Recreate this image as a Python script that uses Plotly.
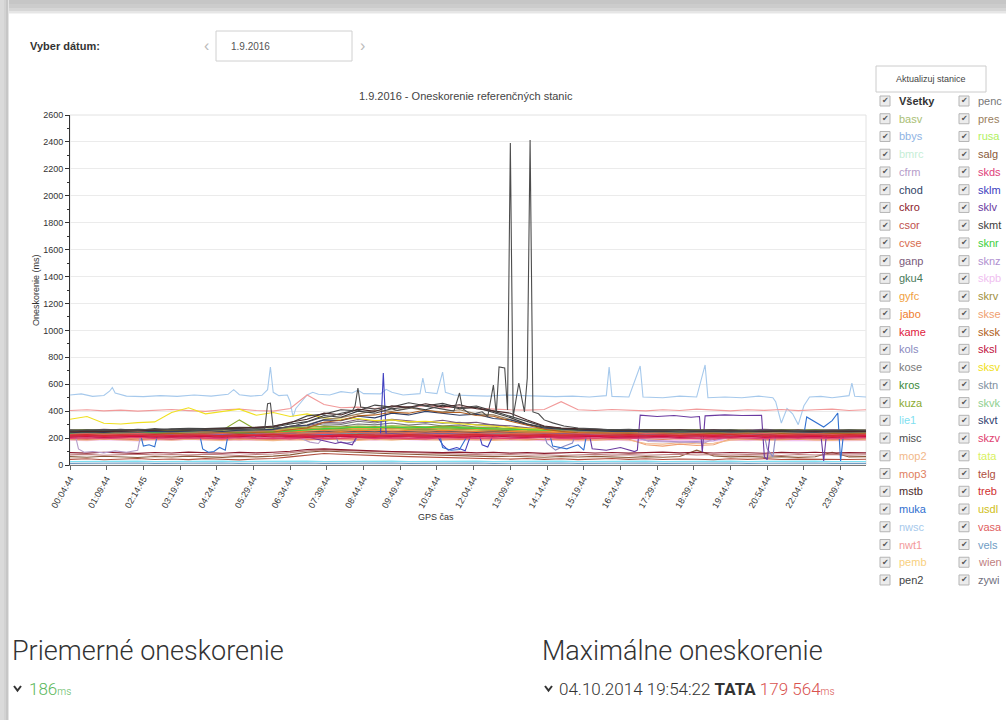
import plotly.graph_objects as go

W, H = 1006, 720


def fx(px):
    return px / W


def fy(py):
    return 1 - py / H


# ---- x axis: 5-minute samples, labelled every 13 samples ----
TICK_TEXT = ["00:04:44", "01:09:44", "02:14:45", "03:19:45", "04:24:44", "05:29:44",
             "06:34:44", "07:39:44", "08:44:44", "09:49:44", "10:54:44", "12:04:44",
             "13:09:45", "14:14:44", "15:19:44", "16:24:44", "17:29:44", "18:39:44",
             "19:44:44", "20:54:44", "22:04:44", "23:09:44"]
TICK_IDX = [13 * k for k in range(len(TICK_TEXT))]
N_SAMPLES = 282
GRID = list(range(0, N_SAMPLES + 1, 6))   # 48 sample positions

# ---- stations in the two legend columns ----
COL1 = ["basv", "bbys", "bmrc", "cfrm", "chod", "ckro", "csor", "cvse", "ganp", "gku4",
        "gyfc", "jabo", "kame", "kols", "kose", "kros", "kuza", "lie1", "misc", "mop2",
        "mop3", "mstb", "muka", "nwsc", "nwt1", "pemb", "pen2"]
COL2 = ["penc", "pres", "rusa", "salg", "skds", "sklm", "sklv", "skmt", "sknr", "sknz",
        "skpb", "skrv", "skse", "sksk", "sksl", "sksv", "sktn", "skvk", "skvt", "skzv",
        "tata", "telg", "treb", "usdl", "vasa", "vels", "wien", "zywi"]

COLORS = {
    "basv": "#a9c074", "bbys": "#8fb3e3", "bmrc": "#c6eed6", "cfrm": "#b59cc9",
    "chod": "#2f3f66", "ckro": "#8b1a2b", "csor": "#c0504d", "cvse": "#d86b4e",
    "ganp": "#7a5a7a", "gku4": "#4a7a5a", "gyfc": "#f0a040", "jabo": "#f08030",
    "kame": "#e0203c", "kols": "#8a8ac0", "kose": "#7a7a7a", "kros": "#3a8a3a",
    "kuza": "#8aaa30", "lie1": "#80e0f0", "misc": "#4d4d4d", "mop2": "#f2b88a",
    "mop3": "#e08060", "mstb": "#4a2a2a", "muka": "#3070d0", "nwsc": "#a6c9ec",
    "nwt1": "#f29a9a", "pemb": "#f8d080", "pen2": "#444444",
    "penc": "#777777", "pres": "#9a8060", "rusa": "#b0f060", "salg": "#8a5a3a",
    "skds": "#e0407a", "sklm": "#4040c0", "sklv": "#6a3aa0", "skmt": "#3d3d3d",
    "sknr": "#40d040", "sknz": "#b090d0", "skpb": "#f0c0f0", "skrv": "#a09040",
    "skse": "#f0a070", "sksk": "#b06020", "sksl": "#c01040", "sksv": "#f0e020",
    "sktn": "#8090a0", "skvk": "#90d090", "skvt": "#304070", "skzv": "#e04070",
    "tata": "#d8f060", "telg": "#b05040", "treb": "#d03030", "usdl": "#d0c020",
    "vasa": "#e06060", "vels": "#6f9cc4", "wien": "#c08080", "zywi": "#707080",
}

# ---- delay values (ms) ----
# stations with isolated outages / spikes carry their own sample indices
nwsc_idx = [0, 4, 8, 12, 14, 15, 16, 20, 26, 32, 38, 44, 50, 56, 58, 60, 64, 68, 70, 71,
            72, 74, 77, 78, 79, 80, 82, 84, 86, 88, 92, 96, 100, 102, 104, 110, 112, 114,
            118, 124, 125, 126, 130, 132, 133, 136, 142, 148, 154, 160, 166, 172, 178,
            184, 190, 191, 192, 198, 202, 203, 210, 216, 222, 225, 226, 232, 238, 244,
            249, 250, 252, 254, 256, 258, 260, 262, 266, 270, 276, 277, 278, 282]
nwsc = [520, 528, 510, 516, 548, 575, 535, 512, 508, 515, 510, 520, 512, 525, 560, 522,
        512, 518, 560, 728, 540, 515, 520, 470, 357, 420, 470, 520, 540, 525, 520, 545,
        535, 557, 530, 528, 562, 540, 520, 530, 646, 540, 530, 690, 540, 520, 515, 512,
        520, 515, 510, 508, 512, 505, 515, 728, 510, 505, 735, 505, 500, 512, 505, 743,
        500, 505, 500, 512, 500, 470, 312, 420, 380, 300, 440, 505, 510, 500, 515, 609,
        510, 505]

misc_idx = [0, 6, 12, 18, 24, 30, 36, 42, 48, 54, 60, 66, 69, 70, 71, 72, 76, 80, 84, 88,
            92, 96, 100, 101, 102, 103, 108, 112, 116, 120, 124, 128, 132, 136, 138, 139,
            142, 146, 148, 150, 151, 152, 154, 155, 156, 157, 159, 161, 162, 163, 164, 166,
            168, 171, 175, 180, 186, 192, 198, 204, 210, 216, 222, 228, 234, 240, 246, 252,
            258, 264, 270, 276, 282]
misc = [255, 262, 258, 265, 258, 270, 262, 268, 260, 265, 262, 270, 268, 455, 460, 275,
        280, 295, 320, 345, 360, 385, 400, 440, 572, 430, 415, 430, 405, 420, 445, 430,
        410, 400, 535, 420, 375, 395, 360, 594, 380, 728, 720, 408, 2392, 357, 609, 394,
        646, 2414, 394, 380, 335, 313, 290, 275, 268, 262, 265, 258, 262, 255, 260, 258,
        262, 255, 258, 262, 255, 260, 258, 262, 258]

muka_idx = [0, 10, 20, 25, 26, 28, 30, 31, 40, 46, 47, 49, 51, 53, 55, 56, 66, 76, 86, 96,
            106, 116, 126, 131, 132, 135, 138, 141, 150, 158, 168, 170, 171, 176, 180, 182,
            183, 190, 200, 210, 220, 230, 240, 250, 260, 261, 264, 267, 270, 272, 273, 274,
            282]
muka = [225, 228, 222, 226, 140, 150, 135, 225, 228, 222, 120, 95, 100, 130, 110, 224,
        230, 226, 222, 228, 225, 222, 226, 224, 130, 110, 115, 225, 222, 226, 228, 225,
        140, 120, 150, 110, 226, 224, 228, 222, 226, 224, 228, 222, 226, 357, 320, 282,
        330, 386, 30, 226, 224]

sklv_idx = [0, 20, 40, 60, 80, 94, 96, 100, 102, 120, 140, 160, 175, 184, 185, 190, 195,
            200, 201, 202, 208, 214, 220, 223, 224, 225, 232, 238, 245, 246, 247, 248, 260,
            266, 267, 268, 282]
sklv = [232, 230, 235, 230, 228, 160, 170, 150, 228, 232, 228, 226, 230, 228, 120, 110,
        130, 100, 110, 370, 360, 368, 355, 360, 95, 365, 372, 368, 370, 60, 40, 226, 230,
        228, 30, 228, 230]

sklm_idx = [0, 20, 40, 60, 80, 100, 110, 111, 112, 120, 130, 132, 134, 137, 140, 142, 145,
            146, 148, 150, 160, 180, 200, 220, 240, 260, 282]
sklm = [218, 222, 220, 224, 220, 222, 225, 683, 230, 224, 222, 150, 111, 130, 105, 225,
        222, 150, 134, 224, 220, 224, 220, 222, 226, 222, 224]

cfrm_idx = [0, 2, 3, 5, 8, 12, 16, 20, 24, 25, 40, 60, 80, 85, 88, 90, 100, 120, 140, 160,
            180, 200, 205, 215, 225, 230, 250, 266, 282]
cfrm = [215, 210, 120, 95, 100, 90, 105, 95, 110, 220, 215, 218, 214, 170, 160, 215, 218,
        215, 212, 216, 214, 212, 175, 170, 165, 215, 218, 212, 215]

kols_idx = [0, 30, 60, 94, 95, 98, 101, 102, 130, 150, 168, 169, 172, 175, 178, 179, 200,
            240, 246, 247, 249, 250, 282]
kols = [220, 224, 220, 222, 170, 163, 175, 222, 224, 220, 222, 160, 111, 140, 163, 222,
        224, 220, 222, 120, 60, 222, 220]

# stations sampled on GRID (48 values each)
nwt1 = [405, 410, 402, 408, 400, 406, 412, 404, 398, 410, 415, 405,
        400, 420, 520, 450, 425, 430, 420, 435, 428, 440, 425, 430,
        420, 415, 410, 408, 412, 470, 410, 405, 412, 408, 402, 410,
        405, 415, 408, 402, 410, 406, 412, 404, 410, 415, 405, 410]
sksv = [340, 360, 310, 305, 315, 320, 390, 425, 380, 400, 415, 370,
        390, 360, 380, 350, 340, 345, 330, 335, 320, 325, 315, 310,
        300, 290, 280, 270, 265, 260, 262, 255, 258, 252, 255, 250,
        248, 252, 250, 255, 248, 250, 252, 248, 250, 255, 250, 252]
sknr = [235, 240, 238, 236, 240, 242, 238, 245, 240, 238, 242, 240,
        245, 250, 260, 270, 275, 280, 278, 282, 276, 280, 275, 278,
        272, 268, 265, 262, 258, 262, 260, 258, 262, 256, 250, 248,
        245, 246, 244, 248, 245, 242, 246, 244, 248, 245, 243, 246]
mstb = [245, 250, 248, 252, 255, 258, 262, 260, 265, 268, 272, 275,
        285, 318, 340, 385, 372, 415, 398, 440, 428, 455, 432, 448,
        418, 402, 385, 335, 290, 275, 268, 265, 262, 258, 262, 260,
        256, 258, 262, 255, 258, 252, 255, 258, 252, 255, 250, 252]
pen2 = [260, 255, 262, 258, 265, 262, 268, 272, 270, 275, 280, 278,
        290, 312, 365, 378, 410, 402, 445, 430, 462, 440, 458, 425,
        438, 400, 362, 320, 285, 272, 265, 262, 258, 262, 255, 258,
        262, 256, 255, 260, 252, 258, 255, 250, 256, 252, 258, 254]
skmt = [250, 258, 255, 260, 262, 258, 265, 262, 270, 268, 272, 276,
        280, 305, 322, 368, 355, 400, 385, 418, 432, 410, 445, 418,
        428, 390, 352, 305, 280, 270, 262, 260, 258, 255, 258, 252,
        255, 250, 252, 255, 250, 248, 252, 250, 248, 252, 250, 248]
chod = [240, 245, 242, 248, 245, 250, 248, 252, 255, 250, 258, 260,
        265, 288, 295, 335, 330, 362, 350, 385, 372, 398, 382, 370,
        378, 345, 335, 300, 275, 265, 258, 255, 250, 252, 248, 250,
        245, 248, 250, 246, 248, 245, 250, 246, 244, 248, 246, 250]
pres = [230, 235, 232, 238, 240, 236, 242, 245, 240, 246, 250, 252,
        258, 282, 298, 338, 352, 378, 405, 398, 425, 405, 395, 410,
        380, 372, 338, 300, 270, 258, 250, 248, 245, 248, 242, 245,
        240, 244, 246, 242, 245, 240, 244, 242, 240, 245, 242, 244]
sksk = [225, 228, 230, 226, 232, 230, 235, 232, 236, 240, 238, 242,
        245, 262, 276, 318, 332, 365, 372, 392, 385, 408, 388, 392,
        368, 362, 325, 295, 265, 250, 240, 238, 235, 238, 232, 236,
        230, 234, 236, 232, 235, 230, 234, 232, 230, 235, 232, 234]
kame = [214, 218, 212, 216, 220, 213, 217, 215, 219, 212, 216, 221,
        214, 218, 213, 217, 220, 215, 212, 218, 216, 214, 219, 213,
        217, 221, 215, 212, 218, 214, 216, 220, 213, 217, 215, 219,
        212, 216, 218, 214, 220, 213, 217, 215, 219, 212, 216, 218]
treb = [222, 226, 219, 224, 221, 227, 220, 225, 223, 218, 226, 222,
        228, 221, 225, 219, 224, 227, 222, 220, 226, 223, 219, 225,
        228, 221, 224, 220, 226, 222, 225, 219, 223, 227, 221, 224,
        220, 226, 222, 228, 219, 224, 221, 225, 223, 220, 226, 222]
sksl = [208, 212, 206, 210, 214, 207, 211, 209, 213, 206, 210, 215,
        208, 212, 207, 211, 214, 209, 206, 212, 210, 208, 213, 207,
        211, 215, 209, 206, 212, 208, 210, 214, 207, 211, 209, 213,
        206, 210, 212, 208, 214, 207, 211, 209, 213, 206, 210, 212]
vasa = [226, 231, 224, 229, 233, 227, 222, 230, 228, 234, 225, 229,
        232, 226, 230, 235, 228, 224, 231, 227, 233, 229, 225, 230,
        234, 228, 226, 231, 229, 224, 232, 228, 230, 226, 233, 229,
        227, 231, 225, 230, 228, 234, 226, 229, 232, 227, 230, 228]
csor = [216, 220, 224, 218, 215, 221, 219, 223, 217, 214, 222, 218,
        220, 225, 219, 216, 221, 223, 218, 215, 220, 224, 217, 221,
        219, 216, 223, 220, 218, 222, 215, 219, 224, 218, 221, 216,
        220, 223, 219, 217, 222, 218, 216, 221, 224, 219, 217, 220]
skzv = [204, 200, 207, 203, 209, 201, 205, 208, 202, 206, 210, 203,
        199, 206, 204, 208, 201, 205, 209, 203, 200, 207, 204, 202,
        208, 205, 201, 206, 209, 203, 205, 200, 207, 204, 202, 208,
        205, 201, 206, 203, 209, 204, 200, 207, 203, 205, 208, 204]
skds = [198, 202, 195, 200, 204, 197, 193, 201, 199, 196, 203, 198,
        200, 194, 202, 197, 199, 205, 196, 201, 198, 194, 203, 199,
        197, 201, 195, 200, 204, 198, 196, 202, 199, 195, 201, 203,
        197, 199, 194, 202, 200, 196, 203, 198, 201, 195, 199, 202]
cvse = [232, 228, 235, 230, 226, 233, 238, 231, 229, 236, 232, 227,
        234, 240, 236, 242, 238, 244, 240, 246, 242, 238, 244, 240,
        236, 241, 235, 232, 237, 230, 234, 228, 233, 231, 236, 229,
        232, 235, 230, 227, 234, 231, 229, 236, 232, 228, 233, 230]
jabo = [240, 236, 243, 238, 245, 241, 237, 244, 239, 235, 242, 246,
        240, 248, 252, 256, 250, 258, 254, 260, 255, 251, 257, 253,
        249, 254, 248, 244, 246, 240, 243, 238, 241, 236, 244, 239,
        242, 237, 245, 240, 238, 243, 236, 241, 244, 239, 237, 242]
gyfc = [246, 250, 244, 248, 252, 245, 249, 243, 251, 247, 244, 250,
        255, 262, 268, 272, 266, 274, 270, 276, 271, 267, 273, 269,
        264, 268, 260, 255, 252, 248, 251, 246, 249, 244, 250, 247,
        243, 249, 246, 251, 245, 248, 244, 250, 247, 243, 249, 246]
mop3 = [194, 190, 197, 192, 188, 195, 191, 198, 193, 189, 196, 192,
        190, 197, 194, 188, 195, 191, 198, 193, 190, 196, 192, 189,
        195, 191, 197, 193, 188, 194, 190, 196, 192, 198, 191, 189,
        195, 193, 190, 197, 192, 188, 194, 191, 196, 193, 190, 195]
mop2 = [188, 184, 191, 186, 182, 189, 185, 192, 187, 183, 190, 186,
        181, 188, 184, 191, 186, 183, 189, 185, 192, 187, 184, 190,
        186, 182, 188, 185, 191, 184, 187, 183, 190, 186, 160, 155,
        165, 158, 162, 185, 189, 184, 187, 191, 185, 183, 188, 186]
pemb = [252, 256, 249, 254, 258, 251, 255, 250, 257, 253, 248, 255,
        260, 266, 272, 278, 274, 280, 276, 282, 278, 273, 279, 275,
        270, 266, 262, 258, 255, 252, 256, 250, 254, 249, 253, 257,
        251, 255, 250, 254, 252, 248, 255, 251, 256, 250, 253, 251]
usdl = [243, 247, 240, 245, 249, 242, 246, 241, 248, 244, 239, 246,
        250, 255, 262, 266, 260, 268, 264, 270, 265, 261, 267, 263,
        258, 262, 256, 250, 247, 244, 248, 242, 246, 241, 245, 249,
        243, 247, 242, 246, 244, 240, 247, 243, 248, 242, 245, 243]
tata = [256, 260, 253, 258, 262, 255, 259, 254, 261, 257, 252, 259,
        264, 270, 276, 282, 278, 284, 280, 286, 282, 277, 283, 279,
        274, 270, 266, 262, 259, 256, 260, 254, 258, 253, 257, 261,
        255, 259, 254, 258, 256, 252, 259, 255, 260, 254, 257, 255]
rusa = [249, 245, 252, 247, 243, 250, 246, 253, 248, 244, 251, 247,
        253, 258, 264, 270, 266, 272, 268, 274, 269, 265, 271, 267,
        262, 258, 254, 250, 247, 252, 246, 250, 245, 249, 253, 247,
        251, 246, 250, 248, 244, 251, 247, 252, 246, 249, 247, 250]
kuza = [258, 262, 255, 260, 264, 257, 261, 256, 263, 259, 335, 262,
        268, 275, 282, 288, 284, 290, 286, 292, 288, 283, 289, 285,
        280, 276, 272, 268, 262, 258, 262, 256, 260, 255, 259, 263,
        257, 261, 256, 260, 258, 254, 261, 257, 262, 256, 259, 257]
kros = [252, 248, 255, 250, 246, 253, 249, 256, 251, 247, 254, 250,
        256, 262, 268, 274, 270, 276, 272, 278, 273, 269, 275, 271,
        266, 262, 258, 254, 251, 256, 250, 254, 249, 253, 257, 251,
        255, 250, 254, 252, 248, 255, 251, 256, 250, 253, 251, 254]
gku4 = [245, 249, 242, 247, 251, 244, 248, 243, 250, 246, 241, 248,
        252, 258, 264, 270, 266, 272, 268, 274, 269, 265, 271, 267,
        262, 258, 254, 250, 247, 244, 248, 242, 246, 241, 245, 249,
        243, 247, 242, 246, 244, 240, 247, 243, 248, 242, 245, 243]
skvk = [235, 239, 232, 237, 241, 234, 238, 233, 240, 236, 231, 238,
        236, 240, 234, 238, 242, 236, 240, 235, 239, 243, 237, 241,
        236, 240, 234, 238, 235, 239, 233, 237, 241, 235, 239, 234,
        238, 236, 232, 239, 235, 240, 234, 237, 235, 238, 234, 236]
basv = [240, 236, 243, 238, 234, 241, 237, 244, 239, 235, 242, 238,
        244, 240, 246, 242, 248, 244, 240, 246, 243, 239, 245, 241,
        237, 243, 238, 242, 236, 240, 234, 238, 242, 236, 240, 235,
        239, 237, 233, 240, 236, 241, 235, 238, 236, 239, 235, 237]
bbys = [210, 214, 207, 212, 216, 209, 213, 208, 215, 211, 206, 213,
        210, 214, 208, 212, 216, 210, 214, 209, 213, 217, 211, 215,
        210, 214, 208, 212, 209, 213, 207, 211, 215, 209, 213, 208,
        212, 210, 206, 213, 209, 214, 208, 211, 209, 212, 208, 210]
bmrc = [228, 224, 231, 226, 222, 229, 225, 232, 227, 223, 230, 226,
        232, 228, 234, 230, 236, 232, 228, 234, 231, 227, 233, 229,
        225, 231, 226, 230, 224, 228, 222, 226, 230, 224, 228, 223,
        227, 225, 221, 228, 224, 229, 223, 226, 224, 227, 223, 225]
ganp = [262, 258, 265, 260, 256, 263, 259, 266, 261, 257, 264, 260,
        268, 285, 292, 318, 312, 338, 322, 340, 328, 318, 332, 312,
        318, 296, 292, 276, 268, 264, 260, 266, 261, 257, 263, 259,
        264, 258, 262, 256, 260, 265, 259, 263, 257, 261, 259, 262]
kose = [255, 259, 252, 257, 261, 254, 258, 253, 260, 256, 251, 258,
        262, 278, 282, 306, 302, 325, 312, 335, 318, 322, 310, 318,
        298, 300, 280, 274, 262, 258, 254, 259, 253, 257, 252, 256,
        260, 254, 258, 253, 257, 255, 251, 258, 254, 259, 253, 256]
penc = [250, 246, 253, 248, 244, 251, 247, 254, 249, 245, 252, 248,
        254, 268, 270, 292, 288, 305, 298, 312, 296, 306, 290, 298,
        280, 282, 262, 262, 252, 248, 253, 247, 251, 246, 250, 254,
        248, 252, 247, 251, 249, 245, 252, 248, 253, 247, 250, 248]
zywi = [248, 252, 245, 250, 254, 247, 251, 246, 253, 249, 244, 251,
        247, 252, 246, 250, 254, 248, 252, 247, 251, 255, 249, 253,
        248, 252, 246, 250, 247, 251, 245, 249, 253, 247, 251, 246,
        250, 248, 244, 251, 247, 252, 246, 249, 247, 250, 246, 248]
sktn = [232, 236, 229, 234, 238, 231, 235, 230, 237, 233, 228, 235,
        232, 236, 230, 234, 238, 232, 236, 231, 235, 239, 233, 237,
        232, 236, 230, 234, 231, 235, 229, 233, 237, 231, 235, 230,
        234, 232, 228, 235, 231, 236, 230, 233, 231, 234, 230, 232]
skvt = [245, 241, 248, 243, 239, 246, 242, 249, 244, 240, 247, 243,
        249, 245, 251, 247, 253, 249, 245, 251, 248, 244, 250, 246,
        242, 248, 243, 247, 241, 245, 239, 243, 247, 241, 245, 240,
        244, 242, 238, 245, 241, 246, 240, 243, 241, 244, 240, 242]
skrv = [238, 242, 235, 240, 244, 237, 241, 236, 243, 239, 234, 241,
        238, 242, 236, 240, 244, 238, 242, 237, 241, 245, 239, 243,
        238, 242, 236, 240, 237, 241, 235, 239, 243, 237, 241, 236,
        240, 238, 234, 241, 237, 242, 236, 239, 237, 240, 236, 238]
skpb = [185, 181, 188, 183, 179, 186, 182, 189, 184, 180, 187, 183,
        189, 185, 191, 187, 193, 189, 185, 191, 188, 184, 190, 186,
        182, 188, 183, 187, 181, 185, 179, 183, 187, 181, 185, 180,
        184, 182, 178, 185, 181, 186, 180, 183, 181, 184, 180, 182]
skse = [192, 196, 189, 194, 198, 191, 195, 190, 197, 193, 188, 195,
        192, 196, 190, 194, 198, 192, 196, 191, 195, 199, 193, 197,
        192, 196, 190, 194, 191, 195, 189, 193, 197, 191, 150, 140,
        155, 145, 150, 195, 191, 196, 190, 193, 191, 194, 190, 192]
sknz = [212, 215, 210, 214, 212, 216, 210, 214, 212, 215, 210, 213,
        215, 212, 210, 214, 212, 215, 210, 212, 214, 210, 212, 215,
        210, 214, 212, 210, 214, 212, 215, 212, 210, 214, 185, 178,
        172, 175, 180, 210, 214, 212, 210, 215, 212, 210, 214, 212]
ckro = [92, 88, 95, 90, 86, 93, 89, 96, 91, 87, 94, 90,
        95, 102, 115, 120, 114, 108, 104, 100, 98, 95, 92, 96,
        90, 94, 88, 92, 86, 90, 95, 89, 93, 88, 92, 96,
        90, 94, 89, 93, 91, 87, 94, 90, 95, 89, 92, 90]
salg = [62, 58, 65, 60, 56, 63, 59, 66, 61, 57, 64, 60,
        66, 75, 95, 105, 98, 92, 88, 84, 80, 76, 72, 68,
        66, 62, 65, 60, 58, 63, 59, 64, 60, 56, 62, 58,
        63, 110, 68, 60, 64, 58, 62, 57, 61, 95, 60, 62]
telg = [42, 46, 39, 44, 48, 41, 45, 40, 47, 43, 38, 45,
        48, 60, 75, 85, 80, 74, 70, 66, 62, 58, 55, 52,
        50, 46, 44, 48, 42, 46, 40, 44, 48, 42, 46, 41,
        45, 43, 39, 46, 42, 47, 41, 44, 42, 45, 41, 43]
wien = [75, 79, 72, 77, 81, 74, 78, 73, 80, 76, 71, 78,
        82, 92, 105, 112, 108, 100, 96, 92, 88, 85, 82, 80,
        77, 74, 78, 72, 76, 71, 75, 79, 73, 77, 72, 76,
        80, 74, 78, 73, 77, 75, 71, 78, 74, 79, 73, 76]
vels = [12, 14, 11, 13, 15, 12, 14, 11, 13, 15, 12, 14,
        11, 13, 15, 12, 14, 11, 13, 15, 12, 14, 11, 13,
        15, 12, 14, 11, 13, 15, 12, 14, 11, 13, 15, 12,
        14, 11, 13, 15, 12, 14, 11, 13, 15, 12, 14, 12]
lie1 = [26, 28, 25, 27, 29, 26, 28, 25, 27, 29, 26, 28,
        25, 27, 29, 26, 28, 25, 27, 29, 26, 28, 25, 27,
        29, 26, 28, 25, 27, 29, 26, 28, 25, 27, 29, 26,
        28, 25, 27, 29, 26, 28, 25, 27, 29, 26, 28, 26]

SERIES = {
    "nwsc": (nwsc_idx, nwsc), "misc": (misc_idx, misc), "muka": (muka_idx, muka),
    "sklv": (sklv_idx, sklv), "sklm": (sklm_idx, sklm), "cfrm": (cfrm_idx, cfrm),
    "kols": (kols_idx, kols),
    "nwt1": (GRID, nwt1), "sksv": (GRID, sksv), "sknr": (GRID, sknr),
    "mstb": (GRID, mstb), "pen2": (GRID, pen2), "skmt": (GRID, skmt),
    "chod": (GRID, chod), "pres": (GRID, pres), "sksk": (GRID, sksk),
    "kame": (GRID, kame), "treb": (GRID, treb), "sksl": (GRID, sksl),
    "vasa": (GRID, vasa), "csor": (GRID, csor), "skzv": (GRID, skzv),
    "skds": (GRID, skds), "cvse": (GRID, cvse), "jabo": (GRID, jabo),
    "gyfc": (GRID, gyfc), "mop3": (GRID, mop3), "mop2": (GRID, mop2),
    "pemb": (GRID, pemb), "usdl": (GRID, usdl), "tata": (GRID, tata),
    "rusa": (GRID, rusa), "kuza": (GRID, kuza), "kros": (GRID, kros),
    "gku4": (GRID, gku4), "skvk": (GRID, skvk), "basv": (GRID, basv),
    "bbys": (GRID, bbys), "bmrc": (GRID, bmrc), "ganp": (GRID, ganp),
    "kose": (GRID, kose), "penc": (GRID, penc), "zywi": (GRID, zywi),
    "sktn": (GRID, sktn), "skvt": (GRID, skvt), "skrv": (GRID, skrv),
    "skpb": (GRID, skpb), "skse": (GRID, skse), "sknz": (GRID, sknz),
    "ckro": (GRID, ckro), "salg": (GRID, salg), "telg": (GRID, telg),
    "wien": (GRID, wien), "vels": (GRID, vels), "lie1": (GRID, lie1),
}

# drawing order: pale lines first, strong reds and the spiking station last
DRAW_ORDER = ["nwsc", "nwt1", "vels", "lie1", "telg", "salg", "wien", "ckro",
              "bmrc", "skpb", "skse", "mop2", "mop3", "sknz", "bbys", "skvk", "basv",
              "sktn", "skrv", "zywi", "skvt", "penc", "kose", "ganp", "rusa", "tata",
              "usdl", "pemb", "gku4", "kros", "kuza", "gyfc", "jabo", "cvse",
              "cfrm", "kols", "sklm", "muka", "sklv", "sksv", "sknr",
              "pres", "chod", "sksk", "skmt", "pen2", "mstb",
              "skds", "skzv", "csor", "vasa", "sksl", "treb", "kame", "misc"]

FONT = "Liberation Sans"

fig = go.Figure()
for name in DRAW_ORDER:
    xs, ys = SERIES[name]
    fig.add_trace(go.Scatter(x=xs, y=ys, mode="lines", name=name,
                             line=dict(color=COLORS[name], width=1.1),
                             showlegend=False, hoverinfo="skip"))

PLOT_L, PLOT_R, PLOT_T, PLOT_B = 70, 866, 115, 465

shapes = []
annotations = []

# page shadow along top and left edges
for y0, y1, c in [(0, 4, "#c6c6c6"), (4, 8, "#cccccc"), (8, 11, "#d6d6d6"),
                  (11, 13, "#e6e6e6"), (13, 14, "#f3f3f3")]:
    shapes.append(dict(type="rect", xref="paper", yref="paper", x0=0, x1=1,
                       y0=fy(y1), y1=fy(y0), fillcolor=c, line=dict(width=0), layer="below"))
for x0, x1, c in [(0, 4, "#dadada"), (4, 6, "#d2d2d2"), (6, 8, "#c6c6c6"), (8, 9, "#e4e4e4")]:
    shapes.append(dict(type="rect", xref="paper", yref="paper", x0=fx(x0), x1=fx(x1),
                       y0=0, y1=fy(0), fillcolor=c, line=dict(width=0), layer="below"))

# plot frame (light)
shapes.append(dict(type="rect", xref="paper", yref="paper", x0=fx(PLOT_L), x1=fx(PLOT_R),
                   y0=fy(PLOT_B), y1=fy(PLOT_T), line=dict(color="#e2e2e2", width=1),
                   layer="below"))

# date picker
annotations.append(dict(x=fx(28), y=fy(46), xref="paper", yref="paper", xanchor="left",
                        yanchor="middle", text="<b>Vyber dátum:</b>", showarrow=False,
                        font=dict(family=FONT, size=11, color="#333333")))
shapes.append(dict(type="rect", xref="paper", yref="paper", x0=fx(216), x1=fx(352),
                   y0=fy(61), y1=fy(31), line=dict(color="#d0d0d0", width=1),
                   fillcolor="white"))
annotations.append(dict(x=fx(229), y=fy(46), xref="paper", yref="paper", xanchor="left",
                        yanchor="middle", text="1.9.2016", showarrow=False,
                        font=dict(family=FONT, size=10, color="#555555")))
for ax_, ch in [(206, "‹"), (362, "›")]:
    annotations.append(dict(x=fx(ax_), y=fy(45), xref="paper", yref="paper",
                            xanchor="center", yanchor="middle", text=ch, showarrow=False,
                            font=dict(family=FONT, size=16, color="#bbbbbb")))

# chart title and axis titles
annotations.append(dict(x=fx(466), y=fy(96), xref="paper", yref="paper", xanchor="center",
                        yanchor="middle", text="1.9.2016 - Oneskorenie referenčných stanic",
                        showarrow=False, font=dict(family=FONT, size=11, color="#444444")))
annotations.append(dict(x=fx(36), y=fy(290), xref="paper", yref="paper", xanchor="center",
                        yanchor="middle", text="Oneskorenie (ms)", textangle=-90,
                        showarrow=False, font=dict(family=FONT, size=9, color="#333333")))
annotations.append(dict(x=fx(436), y=fy(517), xref="paper", yref="paper", xanchor="center",
                        yanchor="middle", text="GPS čas", showarrow=False,
                        font=dict(family=FONT, size=9, color="#333333")))

# station selector
shapes.append(dict(type="rect", xref="paper", yref="paper", x0=fx(876), x1=fx(986),
                   y0=fy(92), y1=fy(66), line=dict(color="#cccccc", width=1),
                   fillcolor="white"))
annotations.append(dict(x=fx(931), y=fy(79), xref="paper", yref="paper", xanchor="center",
                        yanchor="middle", text="Aktualizuj stanice", showarrow=False,
                        font=dict(family=FONT, size=9, color="#444444")))

ROW0, ROW_STEP = 101, 17.74
columns = [(880, ["Všetky"] + COL1), (959, COL2)]
for box_x, names in columns:
    for k, name in enumerate(names):
        yc = ROW0 + ROW_STEP * k
        shapes.append(dict(type="rect", xref="paper", yref="paper", x0=fx(box_x),
                           x1=fx(box_x + 10), y0=fy(yc + 5), y1=fy(yc - 5),
                           line=dict(color="#b5b5b5", width=1), fillcolor="#ececec"))
        annotations.append(dict(x=fx(box_x + 5), y=fy(yc), xref="paper", yref="paper",
                                xanchor="center", yanchor="middle", text="✔",
                                showarrow=False,
                                font=dict(family="DejaVu Sans", size=8, color="#555555")))
        if name == "Všetky":
            label, col = "<b>Všetky</b>", "#333333"
        else:
            label, col = name, COLORS[name]
        annotations.append(dict(x=fx(box_x + 17), y=fy(yc), xref="paper", yref="paper",
                                xanchor="left", yanchor="middle", text=label,
                                showarrow=False, font=dict(family=FONT, size=11, color=col)))

# summary section
for hx, htxt in [(10, "Priemerné oneskorenie"), (540, "Maximálne oneskorenie")]:
    annotations.append(dict(x=fx(hx), y=fy(651), xref="paper", yref="paper",
                            xanchor="left", yanchor="middle", text=htxt, showarrow=False,
                            font=dict(family="Roboto", size=27, color="#333333",
                                      weight=300)))
for cx in (14, 545):
    shapes.append(dict(type="path", xref="paper", yref="paper",
                       path=f"M {fx(cx)},{fy(686)} L {fx(cx + 3.5)},{fy(690.5)} "
                            f"L {fx(cx + 7)},{fy(686)}",
                       line=dict(color="#333333", width=2)))
annotations.append(dict(x=fx(27), y=fy(689), xref="paper", yref="paper", xanchor="left",
                        yanchor="middle",
                        text="<span style='color:#5cb85c'>186</span>"
                             "<span style='color:#5cb85c;font-size:10px'>ms</span>",
                        showarrow=False, font=dict(family="Roboto", size=17, weight=300)))
annotations.append(dict(x=fx(557), y=fy(689), xref="paper", yref="paper", xanchor="left",
                        yanchor="middle",
                        text="04.10.2014 19:54:22 <b>TATA</b> "
                             "<span style='color:#d9534f'>179 564</span>"
                             "<span style='color:#d9534f;font-size:10px'>ms</span>",
                        showarrow=False,
                        font=dict(family="Roboto", size=17, color="#333333", weight=300)))

fig.update_layout(
    width=W, height=H, autosize=False,
    margin=dict(l=0, r=0, t=0, b=0, pad=0, autoexpand=False),
    paper_bgcolor="white", plot_bgcolor="white",
    font=dict(family=FONT, size=9, color="#333333"),
    shapes=shapes, annotations=annotations,
    xaxis=dict(domain=[fx(PLOT_L), fx(PLOT_R)], range=[0, N_SAMPLES], automargin=False,
               tickmode="array", tickvals=TICK_IDX, ticktext=TICK_TEXT, tickangle=-60,
               ticks="outside", ticklen=4, tickcolor="#666666",
               showline=True, linecolor="#777777", linewidth=1, showgrid=False,
               zeroline=False, tickfont=dict(family=FONT, size=9, color="#333333")),
    yaxis=dict(domain=[fy(PLOT_B), fy(PLOT_T)], range=[0, 2600], dtick=200,
               automargin=False, ticks="outside", ticklen=4, tickcolor="#333333",
               minor=dict(ticks="outside", ticklen=2, dtick=100, tickcolor="#333333",
                          showgrid=False),
               showline=True, linecolor="#333333", linewidth=1,
               gridcolor="#ebebeb", gridwidth=1, zeroline=False,
               tickfont=dict(family=FONT, size=9, color="#333333")),
)

fig.write_html("out.html", config={"displayModeBar": False})
